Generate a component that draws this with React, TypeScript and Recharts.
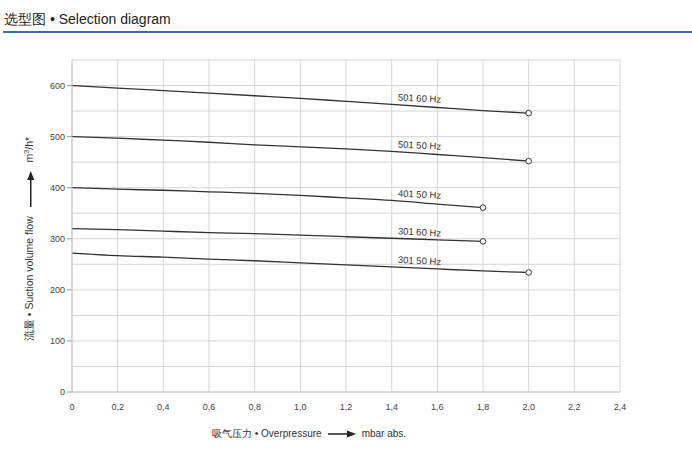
import React from 'react';
import { LineChart, Line, XAxis, YAxis, CartesianGrid } from 'recharts';

// pressure (bar abs.) vs suction volume flow (m³/h)
const pressure = [0, 0.2, 0.4, 0.6, 0.8, 1.0, 1.2, 1.4, 1.6, 1.8, 2.0];
const flow501_60 = [600, 595, 590, 585, 580, 575, 569, 563, 557, 551, 546];
const flow501_50 = [500, 497, 493, 489, 484, 480, 476, 471, 465, 459, 452];
const flow401_50 = [400, 397, 395, 392, 389, 385, 380, 375, 368, 361];
const flow301_60 = [320, 318, 315, 312, 310, 307, 304, 301, 298, 295];
const flow301_50 = [272, 267, 264, 260, 257, 253, 249, 245, 241, 237, 234];

const seriesNames = ['501 60 Hz', '501 50 Hz', '401 50 Hz', '301 60 Hz', '301 50 Hz'];
const seriesValues = [flow501_60, flow501_50, flow401_50, flow301_60, flow301_50];

const xTicks = [0, 0.2, 0.4, 0.6, 0.8, 1.0, 1.2, 1.4, 1.6, 1.8, 2.0, 2.2, 2.4];
const yTicks = [0, 100, 200, 300, 400, 500, 600];
const gridY = [0, 50, 100, 150, 200, 250, 275, 300, 325, 350, 400, 450, 500, 550, 600, 650];

const LABEL_INDEX = 7;
const FONT = 'Liberation Sans, Arial, sans-serif';

const toPoints = (vals: number[]) => vals.map((v, i) => ({ p: pressure[i], q: v }));

const EndDot = (n: number) => (props: any) => {
  const { cx, cy, index } = props;
  if (index !== n - 1) return <g key={index} />;
  return <circle key={index} cx={cx} cy={cy} r={2.8} fill="#fff" stroke="#333" strokeWidth={1} />;
};

const CurveLabel = (name: string) => (props: any) => {
  const { x, y, index } = props;
  if (index !== LABEL_INDEX) return null;
  return (
    <text
      x={x + 6}
      y={y - 4}
      fontSize={9.5}
      fontFamily={FONT}
      fill="#333"
      transform={`rotate(3, ${x + 6}, ${y - 4})`}
    >
      {name}
    </text>
  );
};

const Arrow = ({ w, m }: { w: number; m: number }) => (
  <svg width={w} height={8} style={{ verticalAlign: 'middle', margin: `0 ${m}px` }}>
    <line x1={0} y1={4} x2={w - 7} y2={4} stroke="#222" strokeWidth={1.5} />
    <polygon points={`${w - 9},0.5 ${w},4 ${w - 9},7.5`} fill="#222" />
  </svg>
);

export default function App() {
  return (
    <div style={{ position: 'absolute', left: 0, top: 0, width: 692, height: 476, background: '#fff', fontFamily: FONT }}>
      <div style={{ position: 'absolute', left: 4, top: 11, fontSize: 14, color: '#222', whiteSpace: 'nowrap' }}>
        选型图 • Selection diagram
      </div>
      <div style={{ position: 'absolute', left: 3, right: 0, top: 31, height: 1.5, background: '#3d6ea6' }} />

      <div style={{ position: 'absolute', left: 0, top: 0 }}>
        <LineChart width={692} height={476} margin={{ top: 60, right: 72, left: 32, bottom: 54 }}>
          <CartesianGrid
            stroke="#d6d6d6"
            strokeWidth={1}
            horizontalValues={gridY}
            verticalValues={xTicks}
          />
          <XAxis
            type="number"
            dataKey="p"
            domain={[0, 2.4]}
            ticks={xTicks}
            allowDataOverflow
            tickFormatter={(v: number) => (v === 0 ? '0' : v.toFixed(1).replace('.', ','))}
            tick={{ fontSize: 9, fill: '#444', fontFamily: FONT }}
            axisLine={{ stroke: '#c8c8c8' }}
            tickLine={false}
            tickMargin={6}
            height={30}
          />
          <YAxis
            type="number"
            domain={[0, 650]}
            ticks={yTicks}
            allowDataOverflow
            tick={{ fontSize: 9, fill: '#444', fontFamily: FONT }}
            axisLine={{ stroke: '#c8c8c8' }}
            tickLine={{ stroke: '#999' }}
            tickSize={5}
            width={40}
          />
          {seriesValues.map((vals, i) => (
            <Line
              key={seriesNames[i]}
              data={toPoints(vals)}
              dataKey="q"
              type="monotone"
              stroke="#333"
              strokeWidth={1.3}
              dot={EndDot(vals.length)}
              activeDot={false}
              label={CurveLabel(seriesNames[i])}
              isAnimationActive={false}
            />
          ))}
        </LineChart>
      </div>

      {/* y axis title */}
      <div
        style={{
          position: 'absolute',
          left: 30,
          top: 239,
          transform: 'translate(-50%, -50%) rotate(-90deg)',
          whiteSpace: 'nowrap',
          fontSize: 10.5,
          color: '#333',
        }}
      >
        流量 • Suction volume flow <Arrow w={36} m={6} /> m<sup style={{ fontSize: 7 }}>3</sup>/h*
      </div>

      {/* x axis title */}
      <div
        style={{
          position: 'absolute',
          left: 212,
          top: 427,
          whiteSpace: 'nowrap',
          fontSize: 10,
          color: '#333',
        }}
      >
        吸气压力 • Overpressure<Arrow w={28} m={6} />mbar abs.
      </div>
    </div>
  );
}
